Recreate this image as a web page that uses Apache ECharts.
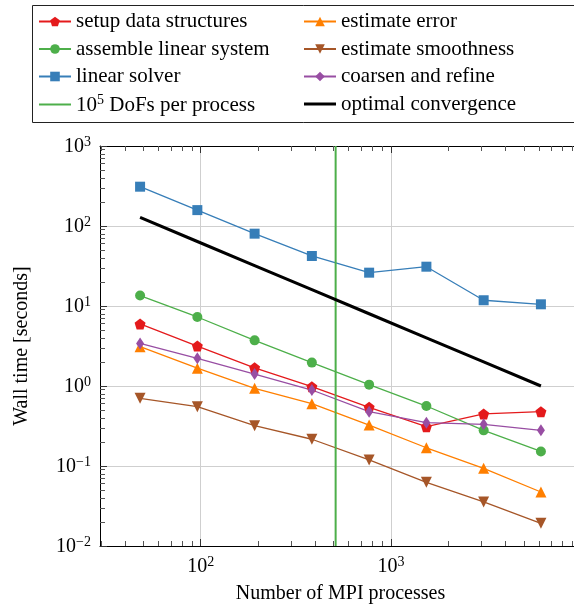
<!DOCTYPE html>
<html>
<head>
<meta charset="utf-8">
<title>Strong scaling</title>
<script src="https://cdn.jsdelivr.net/npm/echarts@6/dist/echarts.min.js"></script>
<style>
  html, body { margin: 0; padding: 0; background: #fff; overflow: hidden; }
  #chart { width: 574px; height: 609px; }
</style>
</head>
<body>
<div id="chart"></div>
<script>
// Number of MPI processes
const processes = [48, 96, 192, 384, 768, 1536, 3072, 6144];

// Wall time per phase [seconds]
const setupDataStructures = [5.96, 3.16, 1.69, 0.98, 0.541, 0.31, 0.447, 0.477];
const assembleLinearSystem = [13.5, 7.29, 3.72, 1.96, 1.04, 0.562, 0.279, 0.152];
const linearSolver = [310, 158, 80.2, 42.2, 26.1, 31.0, 11.8, 10.5];
const estimateError = [3.10, 1.67, 0.935, 0.601, 0.325, 0.169, 0.0935, 0.0473];
const estimateSmoothness = [0.702, 0.551, 0.319, 0.216, 0.119, 0.0625, 0.0355, 0.0192];
const coarsenAndRefine = [3.41, 2.22, 1.41, 0.891, 0.477, 0.348, 0.332, 0.279];
const optimalConvergence = [128, 64, 32, 16, 8, 4, 2, 1];

// 10^5 degrees of freedom per process
const dofsLineProcesses = 512;

// axis ranges and ticks
const yMin = 0.01, yMax = 1000;
const xMajorTicks = [100, 1000];
const xMinorTicks = [30, 40, 50, 60, 70, 80, 90, 200, 300, 400, 500, 600, 700, 800, 900,
  2000, 3000, 4000, 5000, 6000, 7000, 8000, 9000];
const yMinorTicks = [];
for (let e = -2; e < 3; e++) {
  for (let m = 2; m <= 9; m++) yMinorTicks.push(+(m * Math.pow(10, e)).toPrecision(3));
}

// x range widened by 10% of the data span on each side (log space)
const lx0 = Math.log10(Math.min(...processes));
const lx1 = Math.log10(Math.max(...processes));
const pad = 0.1 * (lx1 - lx0);
const xMin = Math.pow(10, lx0 - pad);
const xMax = Math.pow(10, lx1 + pad);

const SERIF = '"Liberation Serif", "Times New Roman", serif';
const DOF_NAME = '10^5 DoFs per process';

const toPairs = ys => processes.map((p, i) => [p, ys[i]]);

function powLabel(v) {
  const e = Math.round(Math.log10(v));
  return '{b|10}{s|' + String(e).replace('-', '\u2212') + '}';
}

const powRich = {
  b: { fontFamily: SERIF, fontSize: 20, color: '#000', verticalAlign: 'bottom', lineHeight: 22 },
  s: { fontFamily: SERIF, fontSize: 14, color: '#000', verticalAlign: 'bottom', lineHeight: 22, padding: [0, 0, 8, 0] }
};

const pentagon = 'path://M0,-1 L0.951,-0.309 L0.588,0.809 L-0.588,0.809 L-0.951,-0.309 Z';

function dataSeries(name, ys, color, symbol, size, extra) {
  return Object.assign({
    name: name,
    type: 'line',
    data: toPairs(ys),
    xAxisIndex: 0,
    yAxisIndex: 0,
    symbol: symbol,
    symbolSize: size,
    showAllSymbol: true,
    lineStyle: { color: color, width: 1.3 },
    itemStyle: { color: color },
    emphasis: { disabled: true },
    animation: false,
    z: 3
  }, extra || {});
}

const tickAxisBase = {
  type: 'log',
  logBase: 10,
  min: xMin,
  max: xMax,
  axisLine: { show: false },
  axisLabel: { show: false },
  splitLine: { show: false }
};

const legendText = {
  fontFamily: SERIF, fontSize: 21, color: '#000', lineHeight: 20,
  rich: {
    t: { fontFamily: SERIF, fontSize: 21, color: '#000', verticalAlign: 'bottom', lineHeight: 22 },
    s: { fontFamily: SERIF, fontSize: 14, color: '#000', verticalAlign: 'bottom', lineHeight: 22, padding: [0, 0, 8, 0] }
  }
};

const chart = echarts.init(document.getElementById('chart'), null, { renderer: 'canvas' });

chart.setOption({
  backgroundColor: '#fff',
  animation: false,
  grid: { left: 100, top: 146, right: -7, bottom: 63, containLabel: false, outerBoundsMode: 'none' },
  xAxis: [
    {
      type: 'log', logBase: 10, min: xMin, max: xMax, position: 'bottom',
      name: 'Number of MPI processes', nameLocation: 'middle', nameGap: 38,
      nameTextStyle: { fontFamily: SERIF, fontSize: 20, color: '#000' },
      axisLine: { show: true, onZero: false, lineStyle: { color: '#000', width: 1 } },
      axisTick: { show: true, inside: true, length: 7, customValues: xMajorTicks, lineStyle: { color: '#333', width: 1 } },
      axisLabel: { customValues: xMajorTicks, formatter: powLabel, rich: powRich, margin: 9 },
      splitLine: { show: true, lineStyle: { color: '#cfcfcf', width: 1 } }
    },
    Object.assign({}, tickAxisBase, {
      position: 'bottom',
      axisTick: { show: true, inside: true, length: 5, customValues: xMinorTicks, lineStyle: { color: '#555', width: 1 } }
    }),
    Object.assign({}, tickAxisBase, {
      position: 'top',
      axisLine: { show: true, onZero: false, lineStyle: { color: '#000', width: 1 } },
      axisTick: { show: true, inside: true, length: 7, customValues: xMajorTicks, lineStyle: { color: '#333', width: 1 } }
    }),
    Object.assign({}, tickAxisBase, {
      position: 'top',
      axisTick: { show: true, inside: true, length: 5, customValues: xMinorTicks, lineStyle: { color: '#555', width: 1 } }
    })
  ],
  yAxis: [
    {
      type: 'log', logBase: 10, min: yMin, max: yMax, position: 'left',
      name: 'Wall time [seconds]', nameLocation: 'middle', nameGap: 68,
      nameTextStyle: { fontFamily: SERIF, fontSize: 20, color: '#000' },
      axisLine: { show: true, onZero: false, lineStyle: { color: '#000', width: 1 } },
      axisTick: { show: true, inside: true, length: 7, lineStyle: { color: '#333', width: 1 } },
      axisLabel: { formatter: powLabel, rich: powRich, margin: 9 },
      splitLine: { show: true, lineStyle: { color: '#cfcfcf', width: 1 } }
    },
    {
      type: 'log', logBase: 10, min: yMin, max: yMax, position: 'left',
      axisLine: { show: false },
      axisLabel: { show: false },
      splitLine: { show: false },
      axisTick: { show: true, inside: true, length: 5, customValues: yMinorTicks, lineStyle: { color: '#555', width: 1 } }
    }
  ],
  legend: [
    {
      left: 38, top: 11, orient: 'vertical', padding: 0, itemGap: 6.5,
      itemWidth: 32, itemHeight: 12, selectedMode: false,
      data: [
        'setup data structures', 'assemble linear system', 'linear solver',
        { name: DOF_NAME, icon: 'path://M0,0 H32 V2 H0 Z' }
      ],
      formatter: name => name === DOF_NAME ? '{t|10}{s|5}{t| DoFs per process}' : name,
      textStyle: legendText
    },
    {
      left: 303, top: 11, orient: 'vertical', padding: 0, itemGap: 6.5,
      itemWidth: 32, itemHeight: 12, selectedMode: false,
      data: [
        'estimate error', 'estimate smoothness', 'coarsen and refine',
        { name: 'optimal convergence', icon: 'path://M0,0 H32 V3 H0 Z' }
      ],
      textStyle: legendText
    }
  ],
  graphic: [
    {
      type: 'rect', left: 30, top: 3, silent: true,
      shape: { x: 0.5, y: 0.5, width: 600, height: 117 },
      style: { fill: 'none', stroke: '#222', lineWidth: 1 }
    }
  ],
  series: [
    dataSeries('setup data structures', setupDataStructures, '#e41a1c', pentagon, 11),
    dataSeries('assemble linear system', assembleLinearSystem, '#4daf4a', 'circle', 10),
    dataSeries('linear solver', linearSolver, '#377eb8', 'rect', 10),
    dataSeries('estimate error', estimateError, '#ff7f00', 'triangle', 11),
    dataSeries('estimate smoothness', estimateSmoothness, '#a65628', 'triangle', 11, { symbolRotate: 180 }),
    dataSeries('coarsen and refine', coarsenAndRefine, '#984ea3', 'diamond', [8, 12]),
    {
      name: DOF_NAME,
      type: 'line',
      data: [[dofsLineProcesses, yMin], [dofsLineProcesses, yMax]],
      symbol: 'none',
      lineStyle: { color: '#4daf4a', width: 2 },
      itemStyle: { color: '#4daf4a' },
      emphasis: { disabled: true },
      z: 4
    },
    {
      name: 'optimal convergence',
      type: 'line',
      data: toPairs(optimalConvergence),
      symbol: 'none',
      lineStyle: { color: '#000', width: 3 },
      itemStyle: { color: '#000' },
      emphasis: { disabled: true },
      z: 5
    }
  ]
});
</script>
</body>
</html>
